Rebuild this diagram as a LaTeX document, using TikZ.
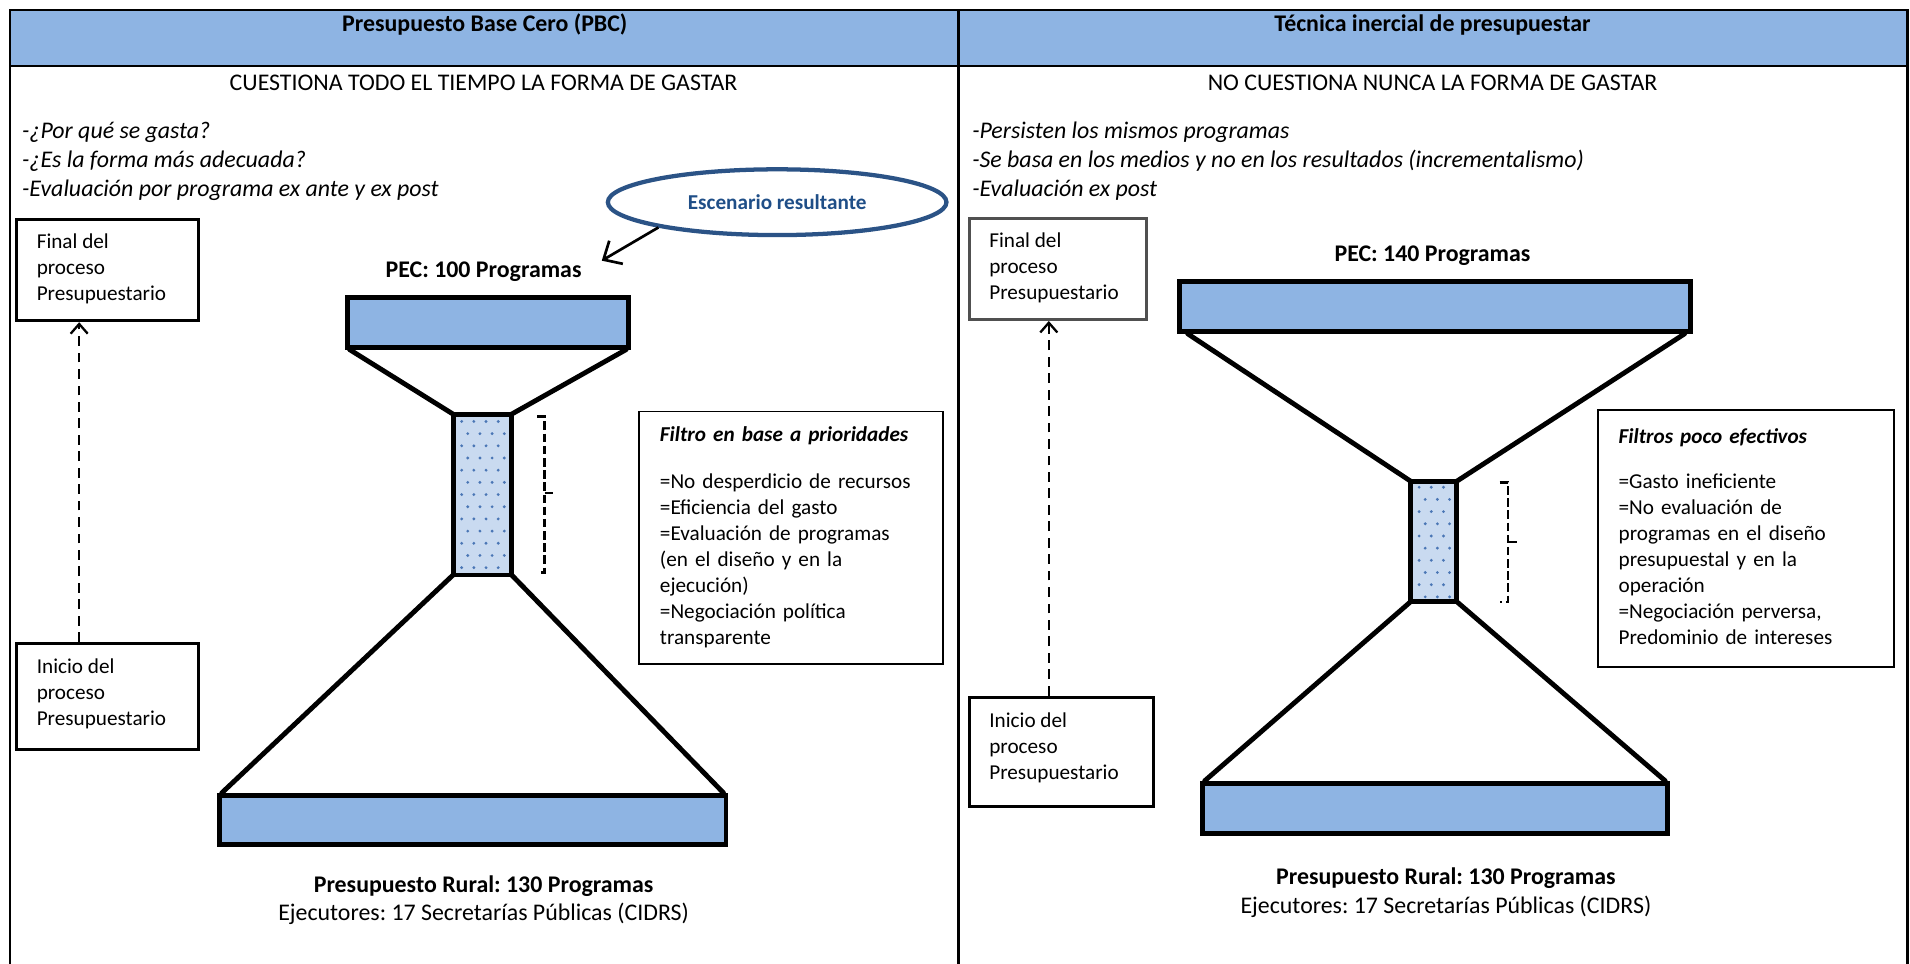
\documentclass[tikz,border=0pt]{standalone}
\usepackage{fontspec}
\setmainfont{Carlito}
\frenchspacing
\usetikzlibrary{shapes.geometric,arrows.meta}

\definecolor{hdrblue}{HTML}{8EB4E3}
\definecolor{neckblue}{HTML}{C9DAF0}
\definecolor{dotblue}{HTML}{4A76B5}
\definecolor{navyline}{HTML}{2B5386}
\definecolor{navytext}{HTML}{1F4E87}
\definecolor{boxgray}{HTML}{505050}

\newcommand\bigtxt{\fontsize{19.6}{24}\selectfont}
\newcommand\smalltxt{\fontsize{17.4}{21.3}\selectfont}
\newcommand\txtlines[2][t]{\begin{tabular}[#1]{@{}l@{}}#2\end{tabular}}

\tikzset{
  hdr/.style={font=\bigtxt\bfseries, anchor=base, inner sep=0pt},
  lead/.style={font=\bigtxt, anchor=base, inner sep=0pt},
  notes/.style={font=\bigtxt\itshape, anchor=base west, inner sep=0pt},
  caption/.style={font=\bigtxt\bfseries, anchor=base, inner sep=0pt},
  subcaption/.style={font=\bigtxt, anchor=base, inner sep=0pt},
  stage/.style={draw, line width=2.5pt, anchor=north west, inner sep=0pt},
  stagetext/.style={font=\smalltxt, anchor=base west, inner sep=0pt},
  filterbox/.style={draw, line width=1.6pt, font=\smalltxt, align=left,
    inner xsep=17pt, inner ysep=0pt, anchor=north west},
  flow/.style={line width=1.9pt, dash pattern=on 8pt off 5.5pt,
    -{Straight Barb[length=8pt,width=14pt,line width=1.9pt]}},
  bar/.style={draw, line width=4pt, fill=hdrblue},
  funnel/.style={line width=4pt, line cap=round},
  brace/.style={line width=1.9pt, dash pattern=on 7pt off 3pt},
}

\begin{document}
\begin{tikzpicture}[x=1pt,y=-1pt]
\useasboundingbox (0,0) rectangle (1568,791);

% header band and table frame
\fill[hdrblue] (8,8) rectangle (1566,54);
\draw[line width=2pt] (8,791) -- (8,8) -- (1566,8) -- (1566,791);
\draw[line width=2pt] (8,54) -- (1566,54);
\draw[line width=2pt] (787,8) -- (787,791);

\node[hdr] (h1) at (398,25.5) {Presupuesto Base Cero (PBC)};
\node[hdr] (h2) at (1176,25.5) {Técnica inercial de presupuestar};

% ---------------- left column: zero-based budget ----------------
\node[lead] (l1) at (397,74) {CUESTIONA TODO EL TIEMPO LA FORMA DE GASTAR};
\node[notes] (n1) at (18,113.5) {\txtlines{-¿Por qué se gasta?\\-¿Es la forma más adecuada?\\-Evaluación por programa ex ante y ex post}};

\node[stage, minimum width=150pt, minimum height=83pt] (fin1) at (12,179) {};
\node[stagetext] (fin1t) at ([shift={(18,25)}]fin1.north west) {\txtlines{Final del\\proceso\\Presupuestario}};
\node[stage, minimum width=150pt, minimum height=87pt] (ini1) at (12,527) {};
\node[stagetext] (ini1t) at ([shift={(18,26)}]ini1.north west) {\txtlines{Inicio del\\proceso\\Presupuestario}};
\draw[flow] ([xshift=53pt]ini1.north west) -- ([xshift=53pt]fin1.south west);

\node[ellipse, draw=navyline, line width=3.5pt, minimum width=278pt, minimum height=54pt,
  inner sep=0pt, font=\smalltxt\bfseries, text=navytext] (esc) at (638,166) {Escenario resultante};
\coordinate (tipL) at (494,214);
\draw[line width=2.2pt, -{Straight Barb[length=12pt,width=22pt,line width=2.2pt]}] (esc.192) -- (tipL);

\node[caption] (pec1) at (397,228) {PEC: 100 Programas};

% funnel
\draw[bar] (285,244) rectangle (516,285);
\draw[funnel] (287,287) -- (372,340);
\draw[funnel] (514,287) -- (420,340);
\fill[neckblue] (372,340) rectangle (420,472);
\foreach \r in {0,...,12}{
  \foreach \c in {0,...,3}{
    \pgfmathsetmacro{\dx}{mod(\r,2)*5}
    \fill[dotblue] (379+\c*10+\dx,346+\r*10) circle (1.3pt);
  }
}
\draw[line width=4pt] (372,340) rectangle (420,472);
\draw[funnel] (372,472) -- (182,651);
\draw[funnel] (420,472) -- (594,651);
\draw[bar] (180,653) rectangle (596,693);
\draw[brace] (441,342) -- (447,342) -- (447,470) -- (441,470) (447,405) -- (457,405);

\node[filterbox, minimum width=249pt, minimum height=207pt, text width=215pt] (f1) at (524,337)
  {\txtlines[c]{\textbf{\textit{Filtro en base a prioridades}}\\[17.7pt]
   =No desperdicio de recursos\\=Eficiencia del gasto\\=Evaluación de programas\\(en el diseño y en la\\ejecución)\\=Negociación política\\transparente}};

\node[caption] (pr1) at (397,733) {Presupuesto Rural: 130 Programas};
\node[subcaption] (ej1) at (397,756) {Ejecutores: 17 Secretarías Públicas (CIDRS)};

% ---------------- right column: inertial budgeting ----------------
\node[lead] (l2) at (1176,74) {NO CUESTIONA NUNCA LA FORMA DE GASTAR};
\node[notes] (n2) at (798,113.5) {\txtlines{-Persisten los mismos programas\\-Se basa en los medios y no en los resultados (incrementalismo)\\-Evaluación ex post}};

\node[stage, draw=boxgray, minimum width=145pt, minimum height=83pt] (fin2) at (795,178) {};
\node[stagetext] (fin2t) at ([shift={(17,25)}]fin2.north west) {\txtlines{Final del\\proceso\\Presupuestario}};
\node[stage, minimum width=151pt, minimum height=90pt] (ini2) at (795,571) {};
\node[stagetext] (ini2t) at ([shift={(17,26)}]ini2.north west) {\txtlines{Inicio del\\proceso\\Presupuestario}};
\draw[flow] ([xshift=66pt]ini2.north west) -- ([xshift=66pt]fin2.south west);

\node[caption] (pec2) at (1176,215) {PEC: 140 Programas};

\draw[bar] (968,231) rectangle (1388,272);
\draw[funnel] (975,274) -- (1158,395);
\draw[funnel] (1383,274) -- (1196,395);
\fill[neckblue] (1158,395) rectangle (1196,494);
\foreach \r in {0,...,9}{
  \foreach \c in {0,...,2}{
    \pgfmathsetmacro{\dx}{mod(\r,2)*5}
    \fill[dotblue] (1165+\c*10+\dx,400+\r*10) circle (1.3pt);
  }
}
\draw[line width=4pt] (1158,395) rectangle (1196,494);
\draw[funnel] (1158,494) -- (989,641);
\draw[funnel] (1196,494) -- (1367,641);
\draw[bar] (987,643) rectangle (1369,684);
\draw[brace] (1231,396) -- (1238,396) -- (1238,494) -- (1231,494) (1238,445) -- (1245,445);

\node[filterbox, minimum width=243pt, minimum height=211pt, text width=209pt] (f2) at (1311,336)
  {\txtlines[c]{\textbf{\textit{Filtros poco efectivos}}\\[15.7pt]
   =Gasto ineficiente\\=No evaluación de\\programas en el diseño\\presupuestal y en la\\operación\\=Negociación perversa,\\Predominio de intereses}};

\node[caption] (pr2) at (1187,726) {Presupuesto Rural: 130 Programas};
\node[subcaption] (ej2) at (1187,750) {Ejecutores: 17 Secretarías Públicas (CIDRS)};
\end{tikzpicture}
\end{document}
